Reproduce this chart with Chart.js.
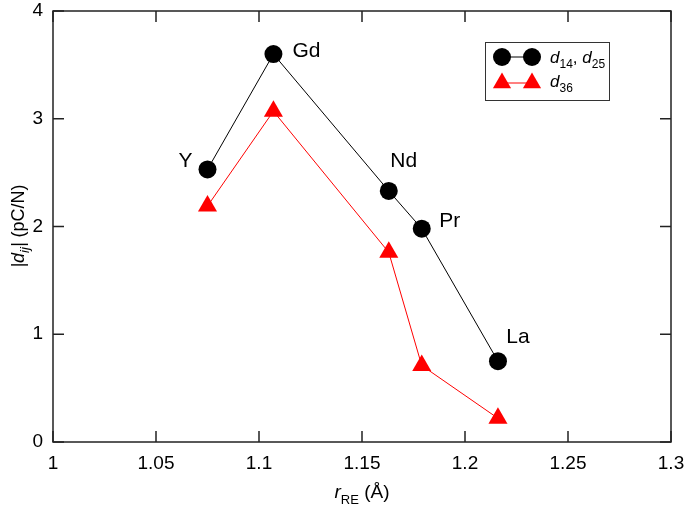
<!DOCTYPE html>
<html>
<head>
<meta charset="utf-8">
<script src="https://cdn.jsdelivr.net/npm/chart.js@4"></script>
<style>
  body { margin: 0; background: #fff; }
</style>
</head>
<body>
<canvas id="chart" width="685" height="506"></canvas>
<script>
// data
const elements = ['Y', 'Gd', 'Nd', 'Pr', 'La'];
const radii = [1.075, 1.107, 1.163, 1.179, 1.216];
const d14 = [2.53, 3.60, 2.33, 1.98, 0.75];
const d36 = [2.19, 3.07, 1.76, 0.71, 0.22];
const xTicks = [1, 1.05, 1.1, 1.15, 1.2, 1.25, 1.3];
const yTicks = [0, 1, 2, 3, 4];

const FONT = '"Liberation Sans", Arial, sans-serif';

// where the element names sit, relative to the black circles (px)
const labelOffsets = { Y: [-22, -8], Gd: [33, -3], Nd: [15, -30], Pr: [28, -7], La: [20, -24] };

// draws text made of pieces, some italic / subscript
function richText(ctx, parts, x, y, size, align) {
  const fontOf = p => (p.italic ? 'italic ' : '') + (p.sub ? Math.round(size * 0.7) : size) + 'px ' + FONT;
  let total = 0;
  parts.forEach(p => { ctx.font = fontOf(p); total += ctx.measureText(p.t).width; });
  let cx = align === 'center' ? x - total / 2 : x;
  ctx.textAlign = 'left';
  ctx.textBaseline = 'alphabetic';
  parts.forEach(p => {
    ctx.font = fontOf(p);
    ctx.fillText(p.t, cx, y + (p.sub ? size * 0.3 : 0));
    cx += ctx.measureText(p.t).width;
  });
}

function triangle(ctx, x, y, r) {
  const hw = r * Math.sin(Math.PI / 3);
  ctx.beginPath();
  ctx.moveTo(x, y - r);
  ctx.lineTo(x + hw, y + r / 2);
  ctx.lineTo(x - hw, y + r / 2);
  ctx.closePath();
  ctx.fill();
}

const noScalePadding = s => { s.paddingTop = 0; s.paddingBottom = 0; s.paddingLeft = 0; s.paddingRight = 0; };

const decorPlugin = {
  id: 'decor',
  afterDraw(chart) {
    const { ctx, chartArea: a, scales: { x, y } } = chart;
    ctx.save();
    // frame + inward ticks on all four sides
    ctx.strokeStyle = '#222';
    ctx.lineWidth = 1.5;
    ctx.strokeRect(a.left, a.top, a.right - a.left, a.bottom - a.top);
    ctx.beginPath();
    xTicks.forEach(v => {
      const px = x.getPixelForValue(v);
      ctx.moveTo(px, a.bottom); ctx.lineTo(px, a.bottom - 11);
      ctx.moveTo(px, a.top); ctx.lineTo(px, a.top + 11);
    });
    yTicks.forEach(v => {
      const py = y.getPixelForValue(v);
      ctx.moveTo(a.left, py); ctx.lineTo(a.left + 11, py);
      ctx.moveTo(a.right, py); ctx.lineTo(a.right - 11, py);
    });
    ctx.stroke();

    // element names
    ctx.fillStyle = '#000';
    ctx.font = '21px ' + FONT;
    ctx.textAlign = 'center';
    ctx.textBaseline = 'middle';
    elements.forEach((el, i) => {
      const off = labelOffsets[el];
      ctx.fillText(el, x.getPixelForValue(radii[i]) + off[0], y.getPixelForValue(d14[i]) + off[1]);
    });

    // axis titles
    richText(ctx, [{ t: 'r', italic: true }, { t: 'RE', sub: true }, { t: ' (Å)' }],
      (a.left + a.right) / 2, 498, 19, 'center');
    ctx.save();
    ctx.translate(24, 226);
    ctx.rotate(-Math.PI / 2);
    richText(ctx, [{ t: '|d', italic: true }, { t: 'ij', italic: true, sub: true }, { t: '|', italic: true }, { t: ' (pC/N)' }],
      0, 0, 18, 'center');
    ctx.restore();

    // legend
    ctx.lineWidth = 1;
    ctx.strokeStyle = '#333';
    ctx.strokeRect(485.5, 42.5, 124, 58);
    ctx.strokeStyle = '#000';
    ctx.beginPath(); ctx.moveTo(502, 57); ctx.lineTo(532, 57); ctx.stroke();
    ctx.fillStyle = '#000';
    [502, 532].forEach(cx => { ctx.beginPath(); ctx.arc(cx, 57, 9, 0, Math.PI * 2); ctx.fill(); });
    richText(ctx, [{ t: 'd', italic: true }, { t: '14', sub: true }, { t: ', ' }, { t: 'd', italic: true }, { t: '25', sub: true }],
      550, 63, 17, 'left');
    ctx.strokeStyle = '#f00';
    ctx.beginPath(); ctx.moveTo(502, 83); ctx.lineTo(532, 83); ctx.stroke();
    ctx.fillStyle = '#f00';
    [502, 532].forEach(cx => triangle(ctx, cx, 83, 10.5));
    ctx.fillStyle = '#000';
    richText(ctx, [{ t: 'd', italic: true }, { t: '36', sub: true }], 550, 87, 17, 'left');
    ctx.restore();
  }
};

new Chart(document.getElementById('chart'), {
  type: 'scatter',
  data: {
    datasets: [{
      label: 'd14, d25',
      data: radii.map((r, i) => ({ x: r, y: d14[i] })),
      showLine: true,
      borderColor: '#000',
      borderWidth: 1,
      backgroundColor: '#000',
      pointStyle: 'circle',
      pointRadius: 9,
      pointBorderWidth: 0
    }, {
      label: 'd36',
      data: radii.map((r, i) => ({ x: r, y: d36[i] })),
      showLine: true,
      borderColor: '#f00',
      borderWidth: 1,
      backgroundColor: '#f00',
      pointStyle: 'triangle',
      pointRadius: 11,
      pointBorderWidth: 0
    }]
  },
  options: {
    responsive: false,
    animation: false,
    layout: { padding: { top: 10, right: 14, left: 0, bottom: 0 } },
    plugins: {
      legend: { display: false },
      tooltip: { enabled: false }
    },
    scales: {
      x: {
        type: 'linear',
        min: 1, max: 1.3,
        afterBuildTicks: s => { s.ticks = xTicks.map(v => ({ value: v })); },
        afterFit: s => { s.height = 64; noScalePadding(s); },
        grid: { display: false, drawTicks: false },
        border: { display: false },
        ticks: {
          padding: 10,
          color: '#000',
          font: { family: FONT, size: 19 },
          maxRotation: 0,
          callback: v => String(+v.toFixed(2))
        }
      },
      y: {
        min: 0, max: 4,
        afterBuildTicks: s => { s.ticks = yTicks.map(v => ({ value: v })); },
        afterFit: s => { s.width = 53; noScalePadding(s); },
        grid: { display: false, drawTicks: false },
        border: { display: false },
        ticks: {
          padding: 10,
          color: '#000',
          font: { family: FONT, size: 19 }
        }
      }
    }
  },
  plugins: [decorPlugin]
});
</script>
</body>
</html>
